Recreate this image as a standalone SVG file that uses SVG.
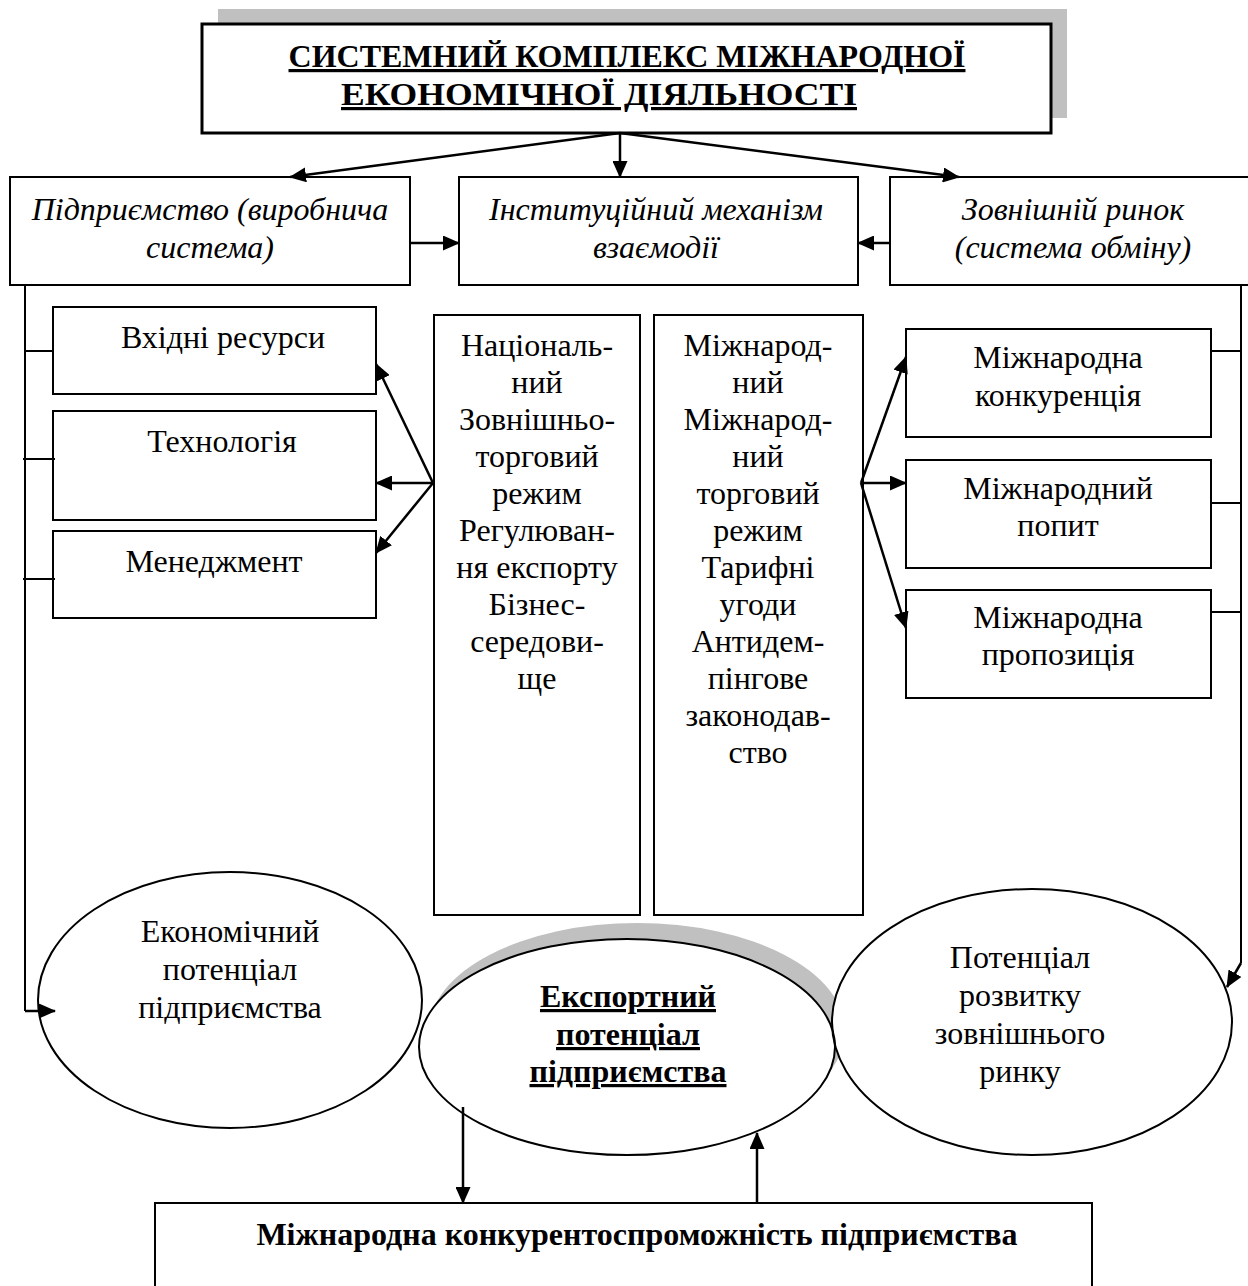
<svg xmlns="http://www.w3.org/2000/svg" width="1248" height="1286" viewBox="0 0 1248 1286">
<style>
  .box { fill: #fff; stroke: #000; stroke-width: 2; }
  .tbox { fill: #fff; stroke: #000; stroke-width: 3; }
  .shadow { fill: #c0c0c0; stroke: none; }
  .ell { fill: none; stroke: #000; stroke-width: 2; }
  .ellfill { fill: #fff; stroke: none; }
  .t { font-family: "Liberation Serif", "Times New Roman", serif; font-size: 32px; fill: #000; text-anchor: middle; }
  .b { font-weight: bold; }
  .i { font-style: italic; }
  .u { text-decoration: underline; }
  .ln { fill: none; stroke: #000; stroke-width: 2; }
  .ar { fill: none; stroke: #000; stroke-width: 2.5; marker-end: url(#ah); }
</style>
<defs>
  <marker id="ah" markerUnits="userSpaceOnUse" markerWidth="17" markerHeight="15" refX="16" refY="7.5" orient="auto">
    <path d="M0,0 L17,7.5 L0,15 z" fill="#000"/>
  </marker>
</defs>

<g id="title">
  <rect class="shadow" x="218" y="9" width="849" height="109"/>
  <rect class="tbox" x="202" y="24" width="849" height="109"/>
  <text class="t b u" x="627" y="67">СИСТЕМНИЙ КОМПЛЕКС МІЖНАРОДНОЇ</text>
  <text class="t b u" x="599" y="105" textLength="516" lengthAdjust="spacingAndGlyphs">ЕКОНОМІЧНОЇ ДІЯЛЬНОСТІ</text>
</g>

<g id="enterprise">
  <rect class="box" x="10" y="177" width="400" height="108"/>
  <text class="t i" x="210" y="220">Підприємство (виробнича</text>
  <text class="t i" x="210" y="258">система)</text>
</g>
<g id="institutional">
  <rect class="box" x="459" y="177" width="399" height="108"/>
  <text class="t i" x="656" y="220">Інституційний механізм</text>
  <text class="t i" x="656" y="258">взаємодії</text>
</g>
<g id="market">
  <rect class="box" x="890" y="177" width="370" height="108"/>
  <text class="t i" x="1073" y="220">Зовнішній ринок</text>
  <text class="t i" x="1073" y="258">(система обміну)</text>
</g>

<g id="resources">
  <rect class="box" x="53" y="307" width="323" height="87"/>
  <text class="t" x="223" y="348">Вхідні ресурси</text>
</g>
<g id="technology">
  <rect class="box" x="53" y="411" width="323" height="109"/>
  <text class="t" x="222" y="452">Технологія</text>
</g>
<g id="management">
  <rect class="box" x="53" y="531" width="323" height="87"/>
  <text class="t" x="214" y="572">Менеджмент</text>
</g>

<g id="national">
  <rect class="box" x="434" y="315" width="206" height="600"/>
  <text class="t" x="537" y="356">Національ-</text>
  <text class="t" x="537" y="393">ний</text>
  <text class="t" x="537" y="430">Зовнішньо-</text>
  <text class="t" x="537" y="467">торговий</text>
  <text class="t" x="537" y="504">режим</text>
  <text class="t" x="537" y="541">Регулюван-</text>
  <text class="t" x="537" y="578">ня експорту</text>
  <text class="t" x="537" y="615">Бізнес-</text>
  <text class="t" x="537" y="652">середови-</text>
  <text class="t" x="537" y="689">ще</text>
</g>
<g id="international">
  <rect class="box" x="654" y="315" width="209" height="600"/>
  <text class="t" x="758" y="356">Міжнарод-</text>
  <text class="t" x="758" y="393">ний</text>
  <text class="t" x="758" y="430">Міжнарод-</text>
  <text class="t" x="758" y="467">ний</text>
  <text class="t" x="758" y="504">торговий</text>
  <text class="t" x="758" y="541">режим</text>
  <text class="t" x="758" y="578">Тарифні</text>
  <text class="t" x="758" y="615">угоди</text>
  <text class="t" x="758" y="652">Антидем-</text>
  <text class="t" x="758" y="689">пінгове</text>
  <text class="t" x="758" y="726">законодав-</text>
  <text class="t" x="758" y="763">ство</text>
</g>

<g id="competition">
  <rect class="box" x="906" y="329" width="305" height="108"/>
  <text class="t" x="1058" y="368">Міжнародна</text>
  <text class="t" x="1058" y="406">конкуренція</text>
</g>
<g id="demand">
  <rect class="box" x="906" y="460" width="305" height="108"/>
  <text class="t" x="1058" y="499">Міжнародний</text>
  <text class="t" x="1058" y="536">попит</text>
</g>
<g id="supply">
  <rect class="box" x="906" y="590" width="305" height="108"/>
  <text class="t" x="1058" y="628">Міжнародна</text>
  <text class="t" x="1058" y="665">пропозиція</text>
</g>

<g id="ellipses-bg">
  <ellipse class="shadow" cx="637" cy="1031" rx="208" ry="108"/>
  <ellipse class="ellfill" cx="230" cy="1000" rx="192" ry="128"/>
  <ellipse class="ellfill" cx="627" cy="1047" rx="208" ry="108"/>
  <ellipse class="ellfill" cx="1032" cy="1022" rx="200" ry="133"/>
</g>
<g id="economic-potential">
  <ellipse class="ell" cx="230" cy="1000" rx="192" ry="128"/>
  <text class="t" x="230" y="942">Економічний</text>
  <text class="t" x="230" y="980">потенціал</text>
  <text class="t" x="230" y="1018">підприємства</text>
</g>
<g id="export-potential">
  <ellipse class="ell" cx="627" cy="1047" rx="208" ry="108"/>
  <text class="t b u" x="628" y="1007">Експортний</text>
  <text class="t b u" x="628" y="1045">потенціал</text>
  <text class="t b u" x="628" y="1082">підприємства</text>
</g>
<g id="market-potential">
  <ellipse class="ell" cx="1032" cy="1022" rx="200" ry="133"/>
  <text class="t" x="1020" y="968">Потенціал</text>
  <text class="t" x="1020" y="1006">розвитку</text>
  <text class="t" x="1020" y="1044">зовнішнього</text>
  <text class="t" x="1020" y="1082">ринку</text>
</g>

<g id="competitiveness">
  <rect class="box" x="155" y="1203" width="937" height="120"/>
  <text class="t b" x="637" y="1245">Міжнародна конкурентоспроможність підприємства</text>
</g>

<g id="connectors">
  <path class="ar" d="M620,133 L290,177"/>
  <path class="ar" d="M620,133 L620,177"/>
  <path class="ar" d="M620,133 L959,177"/>
  <path class="ar" d="M410,243 L459,243"/>
  <path class="ar" d="M890,243 L858,243"/>
  <path class="ln" d="M25,285 L25,1011"/>
  <path class="ar" d="M25,1011 L55,1011"/>
  <path class="ln" d="M25,351 L53,351 M23,459 L55,459 M23,579 L55,579"/>
  <path class="ln" d="M1241,285 L1241,963"/>
  <path class="ar" d="M1241,963 L1227,987"/>
  <path class="ln" d="M1211,351 L1241,351 M1211,503 L1241,503 M1211,612 L1241,612"/>
  <path class="ar" d="M433,483 L376,364"/>
  <path class="ar" d="M433,483 L376,483"/>
  <path class="ar" d="M433,483 L376,553"/>
  <path class="ar" d="M861,483 L906,357"/>
  <path class="ar" d="M861,483 L906,483"/>
  <path class="ar" d="M861,483 L906,628"/>
  <path class="ar" d="M463,1107 L463,1203"/>
  <path class="ar" d="M757,1203 L757,1133"/>
</g>
</svg>
